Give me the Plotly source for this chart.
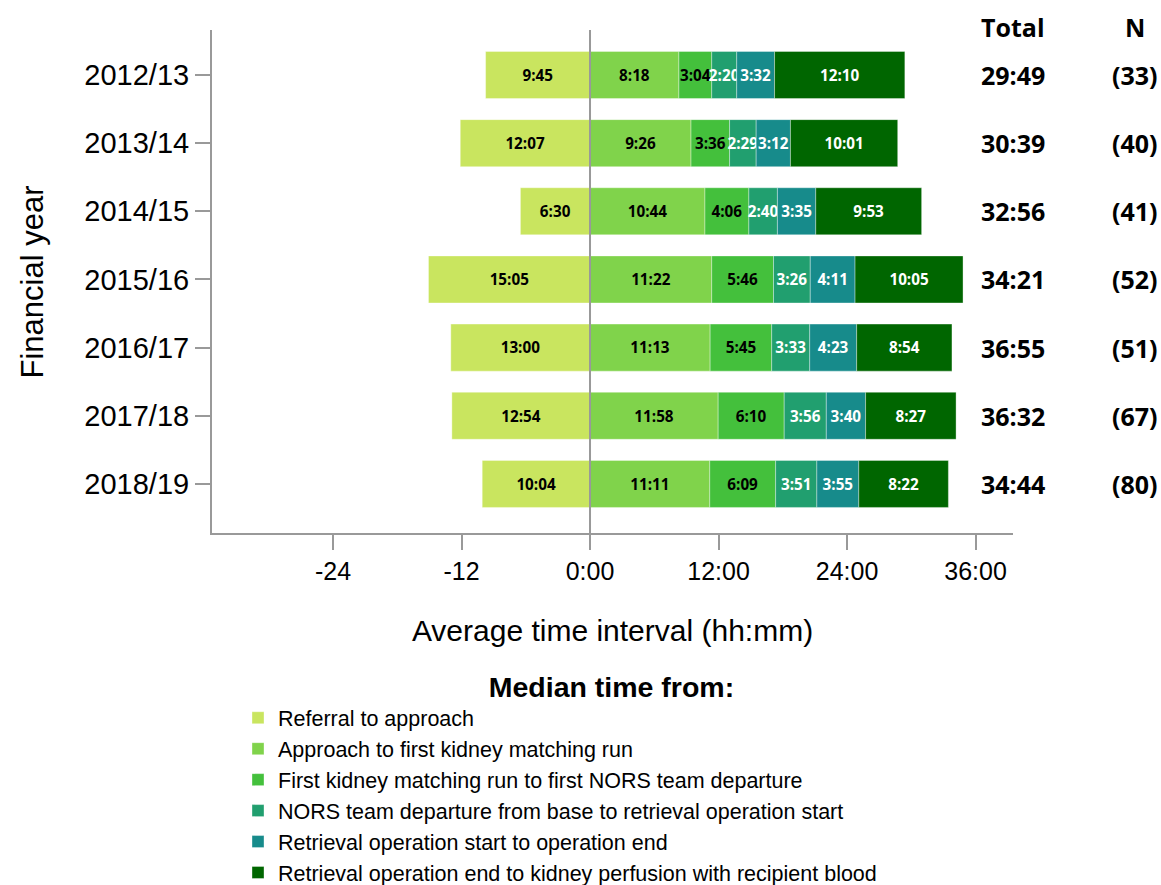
import plotly.graph_objects as go

years = ["2012/13", "2013/14", "2014/15", "2015/16", "2016/17", "2017/18", "2018/19"]

series_names = [
    "Referral to approach",
    "Approach to first kidney matching run",
    "First kidney matching run to first NORS team departure",
    "NORS team departure from base to retrieval operation start",
    "Retrieval operation start to operation end",
    "Retrieval operation end to kidney perfusion with recipient blood",
]

referral_to_approach = ["9:45", "12:07", "6:30", "15:05", "13:00", "12:54", "10:04"]
approach_to_matching = ["8:18", "9:26", "10:44", "11:22", "11:13", "11:58", "11:11"]
matching_to_nors = ["3:04", "3:36", "4:06", "5:46", "5:45", "6:10", "6:09"]
nors_to_op_start = ["2:20", "2:29", "2:40", "3:26", "3:33", "3:56", "3:51"]
op_start_to_end = ["3:32", "3:12", "3:35", "4:11", "4:23", "3:40", "3:55"]
op_end_to_perfusion = ["12:10", "10:01", "9:53", "10:05", "8:54", "8:27", "8:22"]

totals = ["29:49", "30:39", "32:56", "34:21", "36:55", "36:32", "34:44"]
n_values = [33, 40, 41, 52, 51, 67, 80]

tick_vals = [-24, -12, 0, 12, 24, 36]
tick_text = ["-24", "-12", "0:00", "12:00", "24:00", "36:00"]

colors = ["#C9E55F", "#80D34B", "#44C03C", "#219F6F", "#178B8B", "#006600"]
text_colors = ["black", "black", "black", "white", "white", "white"]


def to_hours(s):
    h, m = s.split(":")
    return int(h) + int(m) / 60.0


series = [referral_to_approach, approach_to_matching, matching_to_nors,
          nors_to_op_start, op_start_to_end, op_end_to_perfusion]
signs = [-1, 1, 1, 1, 1, 1]

fig = go.Figure()
for i, (name, vals) in enumerate(zip(series_names, series)):
    fig.add_trace(go.Bar(
        y=years,
        x=[signs[i] * to_hours(v) for v in vals],
        name=name,
        orientation="h",
        marker=dict(color=colors[i], line=dict(color="rgba(255,255,255,0.35)", width=1)),
        text=vals,
        textposition="inside",
        insidetextanchor="middle",
        textangle=0,
        textfont=dict(family="Open Sans", size=17, color=text_colors[i], weight="bold"),
        width=0.69,
        hoverinfo="name+text",
    ))

hdr_font = dict(family="Open Sans", size=25, color="black", weight="bold")
annotations = []
for yr, tot, n in zip(years, totals, n_values):
    annotations.append(dict(x=1.0, xref="paper", y=yr, yref="y", text=tot, showarrow=False,
                            xanchor="center", yanchor="middle", font=hdr_font))
    annotations.append(dict(x=1.152, xref="paper", y=yr, yref="y", text=f"({n})", showarrow=False,
                            xanchor="center", yanchor="middle", font=hdr_font))
annotations.append(dict(x=1.0, xref="paper", y=1.006, yref="paper", text="Total", showarrow=False,
                        xanchor="center", yanchor="middle", font=hdr_font))
annotations.append(dict(x=1.152, xref="paper", y=1.006, yref="paper", text="N", showarrow=False,
                        xanchor="center", yanchor="middle", font=hdr_font))
# y-axis title
annotations.append(dict(x=-0.2235, xref="paper", y=0.5, yref="paper", text="Financial year",
                        showarrow=False, textangle=-90, xanchor="center", yanchor="middle",
                        font=dict(family="Liberation Sans, Arial", size=31, color="black")))

legend_title = "\u00a0" * 13 + "<b>Median time from:</b>"

fig.update_layout(
    width=1161, height=885,
    barmode="relative",
    plot_bgcolor="white", paper_bgcolor="white",
    margin=dict(l=212, r=148, t=30, b=352, autoexpand=False),
    font=dict(family="Liberation Sans, Arial", color="black"),
    showlegend=True,
    legend=dict(
        orientation="v",
        xref="container", yref="container",
        x=0.205, xanchor="left", y=0.254, yanchor="top",
        title=dict(text=legend_title, side="top center",
                   font=dict(family="Liberation Sans, Arial", size=28.5)),
        font=dict(family="Liberation Sans, Arial", size=21.5),
        traceorder="normal",
        tracegroupgap=0,
        bgcolor="rgba(0,0,0,0)",
    ),
    annotations=annotations,
    shapes=[dict(type="line", xref="x", yref="paper", x0=0, x1=0, y0=0, y1=1,
                 line=dict(color="#999999", width=2), layer="above")],
    uniformtext=dict(minsize=15, mode="show"),
)

fig.update_xaxes(
    range=[-35.3, 39.5],
    tickvals=tick_vals, ticktext=tick_text,
    tickfont=dict(size=25),
    ticks="outside", ticklen=15, tickwidth=2, tickcolor="#999999",
    showline=True, linecolor="#999999", linewidth=2,
    showgrid=False, zeroline=False, automargin=False,
    title=dict(text="Average time interval (hh:mm)", font=dict(size=30), standoff=36),
)
fig.update_yaxes(
    categoryorder="array", categoryarray=years,
    range=[6.72, -0.66],
    tickfont=dict(size=29),
    ticks="outside", ticklen=15, tickwidth=2, tickcolor="#999999",
    showline=True, linecolor="#999999", linewidth=2,
    showgrid=False, zeroline=False, automargin=False,
)

fig.write_html("out.html", config={"displayModeBar": False},
               post_script="document.body.style.margin='0';document.body.style.overflow='hidden';")
